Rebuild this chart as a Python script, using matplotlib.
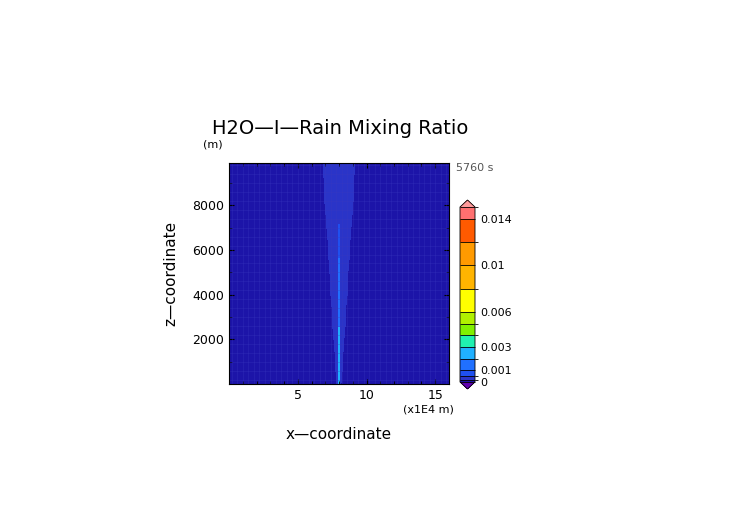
import numpy as np
import matplotlib.pyplot as plt
from matplotlib.colors import ListedColormap, BoundaryNorm

# contour levels and colours
levels = [0, 0.0002, 0.0005, 0.001, 0.002, 0.003, 0.004, 0.005, 0.006,
          0.008, 0.010, 0.012, 0.014, 0.015]
colors = ['#1c14a8', '#2a34c8', '#1f50f0', '#2070ff', '#20b0ff', '#20f0b0',
          '#80f000', '#b0f000', '#ffff00', '#ffb400', '#ff9a00', '#ff5a00',
          '#ff7070']
under_color = '#6000b0'
over_color = '#ff9a9a'
cbar_ticks = [0, 0.001, 0.003, 0.006, 0.01, 0.014]
cbar_labels = ['0', '0.001', '0.003', '0.006', '0.01', '0.014']

# grid (x in 1E4 m, z in m)
x = np.linspace(0, 16, 321)
z = np.linspace(0, 9900, 100)

# rain along the central column, by height (kg/kg)
z_prof = [0, 1000, 2000, 3000, 4000, 5000, 6000, 7000, 7500, 9900]
core_prof = [0.0021, 0.0022, 0.0021, 0.0019, 0.0016, 0.0012, 0.0009, 0.0006, 0.0003, 0.0001]
# half-width of the faint plume, by height (1E4 m)
halo_width = [0.2, 0.3, 0.4, 0.5, 0.6, 0.7, 0.8, 0.9, 1.0, 1.2]
x_center = 8.0
background = 0.00012
halo_value = 0.0003

X, Z = np.meshgrid(x, z)
core = np.interp(Z, z_prof, core_prof)
width = np.interp(Z, z_prof, halo_width)
field = np.full_like(X, background)
field[np.abs(X - x_center) < width] = halo_value
field = np.where(np.abs(X - x_center) < 0.06, np.maximum(core, field), field)

cmap = ListedColormap(colors)
cmap.set_under(under_color)
cmap.set_over(over_color)
norm = BoundaryNorm(levels, cmap.N)

fig = plt.figure(figsize=(7.52, 5.32), dpi=100)
ax = fig.add_axes([229 / 752, 1 - 384 / 532, 220 / 752, 221 / 532])
ax.pcolormesh(X, Z, field, cmap=cmap, norm=norm, shading='auto')
# faint model grid lines seen in the reference
for xv in np.arange(0.2, 16, 0.4):
    ax.axvline(xv, color='#3a3ac0', lw=0.4, alpha=0.5)
for zv in np.arange(200, 9900, 400):
    ax.axhline(zv, color='#3a3ac0', lw=0.4, alpha=0.5)
ax.set_xlim(0, 16)
ax.set_ylim(0, 9900)
ax.set_xticks([5, 10, 15])
ax.set_yticks([2000, 4000, 6000, 8000])
ax.set_xticks(np.arange(1, 16, 1), minor=True)
ax.set_yticks(np.arange(1000, 9900, 1000), minor=True)
ax.tick_params(direction='in', labelsize=9, top=True, right=True, which='both')
ax.set_xlabel('x\u2014coordinate', fontsize=11, labelpad=18)
ax.set_ylabel('z\u2014coordinate', fontsize=11, labelpad=10)
fig.text(340 / 752, 1 - 128 / 532, 'H2O\u2014I\u2014Rain Mixing Ratio', fontsize=14,
         ha='center', va='center')
fig.text(213 / 752, 1 - 145 / 532, '(m)', fontsize=8, ha='center', va='center')
fig.text(456 / 752, 1 - 168 / 532, '5760 s', fontsize=8, ha='left', va='center',
         color='#555555')
fig.text(428 / 752, 1 - 410 / 532, '(x1E4 m)', fontsize=8, ha='center', va='center')

cax = fig.add_axes([460 / 752, 1 - 389 / 532, 15 / 752, 189 / 532])
sm = plt.cm.ScalarMappable(cmap=cmap, norm=norm)
cb = fig.colorbar(sm, cax=cax, extend='both', spacing='proportional',
                  ticks=cbar_ticks, drawedges=True, extendfrac=0.04)
cb.ax.set_yticklabels(cbar_labels)
cb.ax.tick_params(labelsize=8, length=0)
cb.outline.set_linewidth(0.6)
cb.dividers.set_linewidth(0.6)

fig.savefig('out.png', dpi=100)
